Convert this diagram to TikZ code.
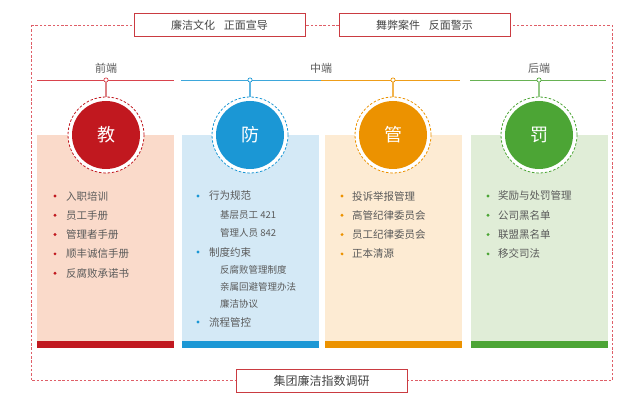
\documentclass[tikz,border=0pt]{standalone}
\usepackage{fontspec}
\setmainfont{Noto Sans CJK SC}
\definecolor{cred}{HTML}{C1181F}
\definecolor{cblue}{HTML}{1B97D5}
\definecolor{corange}{HTML}{EC9200}
\definecolor{cgreen}{HTML}{4CA535}
\definecolor{pred}{HTML}{FADACA}
\definecolor{pblue}{HTML}{D4E9F6}
\definecolor{porange}{HTML}{FDEBD3}
\definecolor{pgreen}{HTML}{E0EDD7}
\definecolor{framec}{HTML}{D9434D}
\definecolor{txt}{HTML}{5A5A5A}
\definecolor{boxtxt}{HTML}{454545}
\begin{document}
\begin{tikzpicture}[x=1pt,y=-1pt,
  panel/.style={rectangle,inner sep=0,minimum width=137,minimum height=213},
  strip/.style={rectangle,inner sep=0,minimum width=137,minimum height=7},
  titlebox/.style={rectangle,draw=cred!85,line width=0.9pt,fill=white,minimum width=171,minimum height=23,inner sep=0,text=boxtxt},
  phase/.style={text=txt,font=\fontsize{11}{13}\selectfont,inner sep=0},
  item/.style={anchor=west,inner sep=0,text=txt,font=\fontsize{10.5}{12}\selectfont},
  subitem/.style={anchor=west,inner sep=0,text=txt,font=\fontsize{9.5}{11}\selectfont},
  bigc/.style={circle,inner sep=0,minimum size=68,text=white,font=\fontsize{18}{20}\selectfont},
  ring/.style={circle,inner sep=0,minimum size=76,fill=white,dashed,dash pattern=on 2.5pt off 1.8pt,line width=0.8pt},
  junc/.style={circle,inner sep=0,minimum size=4.2,fill=white,line width=0.7pt},
  dashframe/.style={draw=framec!85,dash pattern=on 2.5pt off 1.8pt,line width=0.8pt}
]
\useasboundingbox (0,0) rectangle (638,414);

% outer dashed frame
\draw[dashframe] (31,25) rectangle (612,380.5);

% top and bottom boxes
\node[titlebox,font=\fontsize{11}{13}\selectfont] (topL) at (219.5,25) {廉洁文化\hspace{0.8em}正面宣导};
\node[titlebox,font=\fontsize{11}{13}\selectfont] (topR) at (424.5,25) {舞弊案件\hspace{0.8em}反面警示};
\node[titlebox,font=\fontsize{12}{14}\selectfont] (bottom) at (321.5,380.5) {集团廉洁指数调研};

% phase labels
\node[phase] (front) at (106,68) {前端};
\node[phase] (middle) at (321,68) {中端};
\node[phase] (back) at (539,68) {后端};

% phase lines
\draw[framec,line width=0.9pt] (37,80) -- (174,80);
\draw[cblue!85,line width=0.9pt] (181,80) -- (321,80);
\draw[corange!90,line width=0.9pt] (321,80) -- (460,80);
\draw[cgreen!85,line width=0.9pt] (470,80) -- (606,80);

% panels
\node[panel,fill=pred] (p1) at (105.5,241.5) {};
\node[panel,fill=pblue] (p2) at (250.5,241.5) {};
\node[panel,fill=porange] (p3) at (393.5,241.5) {};
\node[panel,fill=pgreen] (p4) at (539.5,241.5) {};
\node[strip,fill=cred] (s1) at (105.5,344.5) {};
\node[strip,fill=cblue] (s2) at (250.5,344.5) {};
\node[strip,fill=corange] (s3) at (393.5,344.5) {};
\node[strip,fill=cgreen] (s4) at (539.5,344.5) {};

% circles
\node[ring,draw=cred] (r1) at (106,135) {};
\node[ring,draw=cblue] (r2) at (250,135) {};
\node[ring,draw=corange] (r3) at (393,135) {};
\node[ring,draw=cgreen] (r4) at (539,135) {};
\node[bigc,fill=cred] (c1) at (106,135) {教};
\node[bigc,fill=cblue] (c2) at (250,135) {防};
\node[bigc,fill=corange] (c3) at (393,135) {管};
\node[bigc,fill=cgreen] (c4) at (539,135) {罚};

% junctions and connectors
\node[junc,draw=framec] (j1) at (106,80) {};
\node[junc,draw=cblue] (j2) at (250,80) {};
\node[junc,draw=corange] (j3) at (393,80) {};
\node[junc,draw=cgreen] (j4) at (539,80) {};
\draw[cred!55,line width=1.1pt] (j1) -- (r1);
\draw[cblue!70,line width=1.1pt] (j2) -- (r2);
\draw[corange!70,line width=1.1pt] (j3) -- (r3);
\draw[cgreen!60,line width=1.1pt] (j4) -- (r4);

% panel 1 items
\foreach \y/\t in {196/入职培训,215.3/员工手册,234.6/管理者手册,253.9/顺丰诚信手册,273.2/反腐败承诺书}{
  \fill[cred] (55,\y) circle (1.6);
  \node[item] at (66,\y) {\t};
}
% panel 2 items
\foreach \y/\t in {196/行为规范,252/制度约束,322/流程管控}{
  \fill[cblue] (198,\y) circle (1.6);
  \node[item] at (209,\y) {\t};
}
\foreach \y/\t in {214.5/基层员工 421,233/管理人员 842,270/反腐败管理制度,287/亲属回避管理办法,304/廉洁协议}{
  \node[subitem] at (220,\y) {\t};
}
% panel 3 items
\foreach \y/\t in {196/投诉举报管理,215.3/高管纪律委员会,234.6/员工纪律委员会,253.9/正本清源}{
  \fill[corange] (342,\y) circle (1.6);
  \node[item] at (352,\y) {\t};
}
% panel 4 items
\foreach \y/\t in {196/奖励与处罚管理,215.3/公司黑名单,234.6/联盟黑名单,253.9/移交司法}{
  \fill[cgreen] (488,\y) circle (1.6);
  \node[item] at (498,\y) {\t};
}
\end{tikzpicture}
\end{document}
